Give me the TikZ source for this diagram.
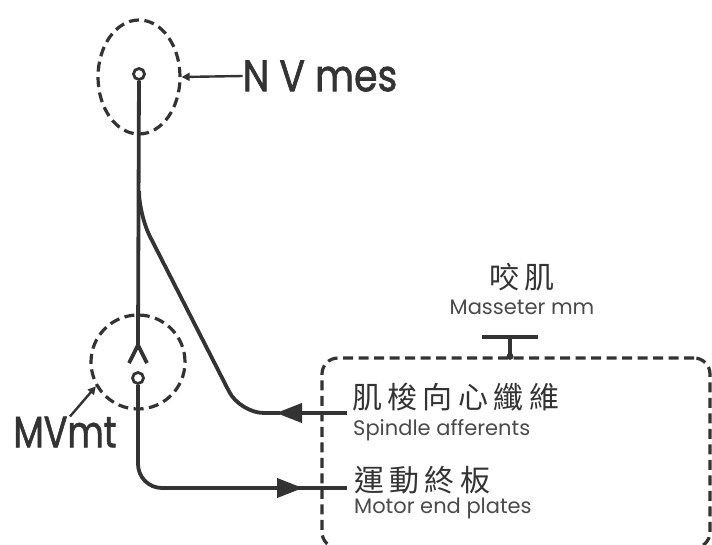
\documentclass[tikz,border=0pt]{standalone}
\usepackage{fontspec}
\setmainfont{Poppins}
\newfontfamily\geo[FakeBold=1.6]{Poppins}
\newfontfamily\cjk[LetterSpace=18]{Noto Sans CJK TC}
\usetikzlibrary{arrows.meta,positioning,shapes.geometric}
\definecolor{ink}{HTML}{333333}
\definecolor{soft}{HTML}{4A4A4A}

\begin{document}
\begin{tikzpicture}[x=1pt,y=-1pt,
  nerve/.style={draw=ink,line width=3.8pt},
  ganglion/.style={draw=ink,line width=3.2pt,dash pattern=on 10pt off 5.5pt,inner sep=0pt},
  soma/.style={circle,draw=ink,line width=2.8pt,fill=white,minimum size=11pt,inner sep=0pt},
  pointer/.style={draw=ink,line width=2.4pt,-{Triangle[length=8pt,width=8pt]}},
  tip/.style={-{Triangle[length=26pt,width=19pt]}},
  biglbl/.style={font=\geo\fontsize{44}{44}\selectfont,text=ink,inner sep=0pt},
  zh/.style={font=\cjk\fontsize{30}{30}\selectfont,text=ink,inner sep=0pt},
  en/.style={font=\rmfamily\fontsize{21}{21}\selectfont,text=soft,inner sep=0pt}]

\useasboundingbox (0,0) rectangle (712,544);

% ganglia
\node[ganglion,ellipse,minimum width=82pt,minimum height=114pt] (mesE) at (139,77) {};
\node[ganglion,circle,minimum size=94pt] (mtC) at (138,362) {};
\node[soma] (mesCell) at (139,74) {};
\node[soma] (mtCell) at (138,378) {};
\coordinate (syn) at (138,345);

% muscle
\node[ganglion,rounded corners=16pt,minimum width=388pt,minimum height=190pt] (mus) at (516,453) {};
\coordinate (mmT) at (510,337);

% labels
\node[biglbl,xscale=0.86] (nvmes) at (320,76) {N V mes};
\node[biglbl,xscale=0.8] (mvmt) at (65,432) {MVmt};
\node[zh] (mmZh) at (522,277) {咬肌};
\node[en] (mmEn) at (522,307) {Masseter mm};
\node[zh,anchor=west] (spZh) at (352,397) {肌梭向心纖維};
\node[en,anchor=west] (spEn) at (353,430) {Spindle afferents};
\node[zh,anchor=west] (mpZh) at (354,480) {運動終板};
\node[en,anchor=west] (mpEn) at (354,508) {Motor end plates};
\coordinate (spStub) at (347,413);
\coordinate (mpStub) at (347,488);

% fibres
\draw[nerve] (mesCell) -- (syn);
\draw[nerve] (syn) -- ++(-9,18) (syn) -- ++(9,18);
\draw[nerve,tip] (spStub) -- (276,413);
\draw[nerve,rounded corners=24pt] (280,413) -- (240,413) -- (139,215) -- (139,195);
\draw[nerve,rounded corners=24pt,tip] (mtCell) -- (138,488) -- (303,488);
\draw[nerve] (298,488) -- (mpStub);
\draw[nerve] ([xshift=-28pt]mmT) -- ([xshift=28pt]mmT);
\draw[nerve] (mmT) -- (mmT|-mus.north);
\fill[ink] (mmT|-mus.north) circle (3.5pt);

% pointers
\draw[pointer] (nvmes.west) -- (mesE.east);
\draw[pointer] ([xshift=5pt]mvmt.north) -- (mtC.210);
\end{tikzpicture}
\end{document}
